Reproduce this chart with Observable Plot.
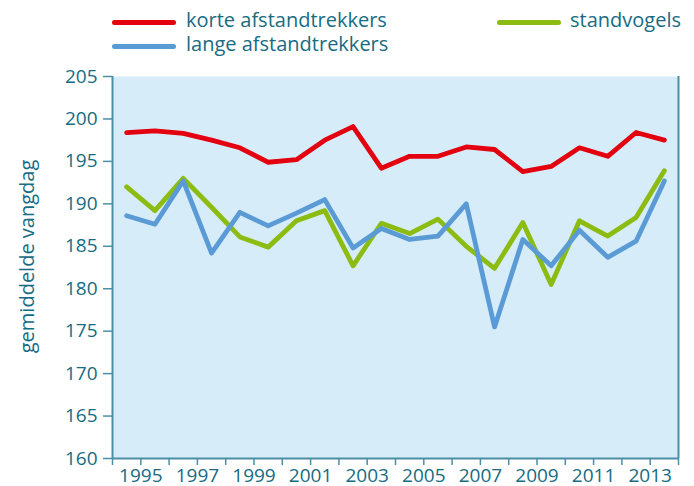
<!DOCTYPE html>
<html><head><meta charset="utf-8">
<script src="https://cdn.jsdelivr.net/npm/d3@7"></script>
<script src="https://cdn.jsdelivr.net/npm/@observablehq/plot@0.6"></script>
<style>
body{margin:0;background:#fff;font-family:"Open Sans",sans-serif;}
#wrap{position:relative;width:694px;height:486px;}
#legend{position:absolute;left:0;top:0;width:694px;height:60px;}
.sw{position:absolute;height:5px;border-radius:3px;width:64px;}
.lt{position:absolute;font-size:20px;color:#176b82;line-height:22px;white-space:nowrap;}
#chart{position:absolute;left:0;top:60px;}
</style></head>
<body><div id="wrap"><div id="legend"></div><div id="chart"></div></div>
<script>
const years = [1994,1995,1996,1997,1998,1999,2000,2001,2002,2003,2004,2005,2006,2007,2008,2009,2010,2011,2012,2013];
const korte = [198.4,198.6,198.3,197.5,196.6,194.9,195.2,197.5,199.1,194.2,195.6,195.6,196.7,196.4,193.8,194.4,196.6,195.6,198.4,197.5];
const lange = [188.6,187.6,192.7,184.2,189.0,187.4,188.9,190.5,184.8,187.1,185.8,186.2,190.0,175.5,185.8,182.7,186.9,183.7,185.6,192.7];
const standvogels = [192.0,189.2,193.0,189.6,186.1,184.9,188.0,189.2,182.7,187.7,186.5,188.2,185.0,182.4,187.8,180.5,188.0,186.2,188.4,193.9];
const seriesNames = ["korte afstandtrekkers","lange afstandtrekkers","standvogels"];
const seriesColors = ["#e3000f","#5b9bd5","#8cbb11"];
const xTickYears = [1994,1995,1996,1997,1998,1999,2000,2001,2002,2003,2004,2005,2006,2007,2008,2009,2010,2011,2012,2013,2014];
const xTickLabels = [1995,1997,1999,2001,2003,2005,2007,2009,2011,2013];
const yTicks = [160,165,170,175,180,185,190,195,200,205];
const yLabel = "gemiddelde vangdag";

const textColor = "#176b82";
const axisColor = "#4a8fa6";
const bg = "#d6edf9";

// legend (HTML)
const legend = document.getElementById("legend");
const legendPos = [{sx:112, sy:20, tx:186, ty:9},{sx:112, sy:44, tx:186, ty:33},{sx:497, sy:20, tx:570, ty:9}];
seriesNames.forEach((n,i) => {
  const p = legendPos[i];
  const s = document.createElement("div");
  s.className = "sw"; s.style.left = p.sx+"px"; s.style.top = p.sy+"px"; s.style.background = seriesColors[i];
  const t = document.createElement("div");
  t.className = "lt"; t.style.left = p.tx+"px"; t.style.top = p.ty+"px"; t.textContent = n;
  legend.appendChild(s); legend.appendChild(t);
});

const rows = [];
const seriesValues = [korte, lange, standvogels];
seriesNames.forEach((n,i) => years.forEach((y,j) => rows.push({series:n, year:y, value:seriesValues[i][j]})));

const lineFor = (name, color) => Plot.lineY(rows.filter(d => d.series === name), {
  x: d => d.year + 0.5, y: "value", stroke: color, strokeWidth: 4.8, strokeLinejoin: "round"
});

const chart = Plot.plot({
  width: 694, height: 426,
  marginLeft: 112, marginRight: 16, marginTop: 16, marginBottom: 28,
  style: {fontFamily: "'Open Sans', sans-serif", fontSize: "19px", color: textColor, background: "transparent", overflow: "visible"},
  x: {domain: [1994, 2014]},
  y: {domain: [160, 205]},
  marks: [
    Plot.frame({fill: bg, stroke: null}),
    Plot.axisX({ticks: xTickYears, tickSize: 7, tickPadding: 3, stroke: axisColor, strokeWidth: 1.5, fill: textColor,
      tickFormat: d => xTickLabels.includes(d) ? String(d) : "", label: null}),
    Plot.axisY({ticks: yTicks, tickSize: 9, tickPadding: 6, stroke: axisColor, strokeWidth: 1.5, fill: textColor, label: null}),
    Plot.text([yLabel], {text: d => d, frameAnchor: "left", textAnchor: "middle", rotate: -90, dx: -85, dy: -11, fontSize: 20, fill: textColor}),
    Plot.ruleX([1994, 2014], {stroke: axisColor, strokeWidth: 2}),
    Plot.ruleY([160], {stroke: axisColor, strokeWidth: 2}),
    lineFor(seriesNames[2], seriesColors[2]),
    lineFor(seriesNames[1], seriesColors[1]),
    lineFor(seriesNames[0], seriesColors[0])
  ]
});
document.getElementById("chart").appendChild(chart);
</script>
</body></html>
